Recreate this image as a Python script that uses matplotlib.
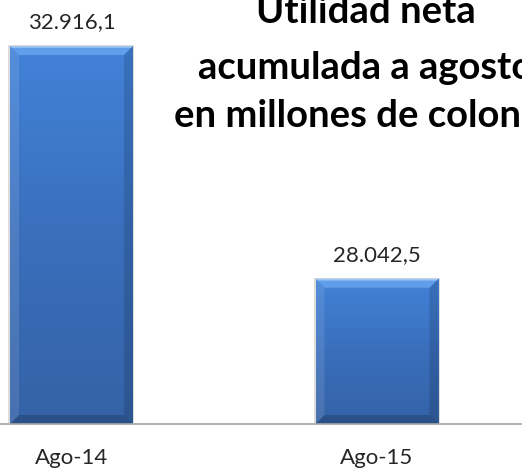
import numpy as np
import matplotlib
matplotlib.use("Agg")
import matplotlib.pyplot as plt
from matplotlib.patches import Polygon
from matplotlib.colors import LinearSegmentedColormap

categories = ["Ago-14", "Ago-15"]
values = [32916.1, 28042.5]
value_labels = ["32.916,1", "28.042,5"]
title_lines = ["Utilidad neta", "acumulada a agosto", "en millones de colones"]

W, H, DPI = 522, 474, 100
fig = plt.figure(figsize=(W / DPI, H / DPI), dpi=DPI)
ax_bottom_px = 474 - 424
ax = fig.add_axes([0, ax_bottom_px / H, 1, 1 - ax_bottom_px / H])
ax.set_facecolor("white")
FONT = "Lato"

x = np.arange(len(categories))
ymin, ymax = 25000, 33880
xmin, xmax = -0.234, 1.4746
ax.set_xlim(xmin, xmax)
ax.set_ylim(ymin, ymax)
bw = 0.4026
bars = ax.bar(x, values, width=bw, color="#3f77c6", zorder=2)

# pixels per data unit
axw_px = W
axh_px = H - ax_bottom_px
ppx = axw_px / (xmax - xmin)
ppy = axh_px / (ymax - ymin)
bev = 9
dx, dy = bev / ppx, bev / ppy

cmap = LinearSegmentedColormap.from_list("g", ["#3462a6", "#3a6fbc", "#4282d8"])
grad = np.linspace(0, 1, 256).reshape(-1, 1)
for rect in bars:
    x0 = rect.get_x(); x1 = x0 + rect.get_width()
    y0 = ymin; y1 = rect.get_height()
    # soft shadow
    ax.add_patch(plt.Rectangle((x0 - 1.5 / ppx, y0), (x1 - x0) + 3 / ppx, y1 - y0 + 1 / ppy,
                               color="#dcdcdc", zorder=1, lw=0))
    im = ax.imshow(grad, extent=[x0, x1, y0, y1], origin="lower", cmap=cmap,
                   aspect="auto", zorder=3)
    im.set_clip_path(rect)
    top = Polygon([(x0, y1), (x1, y1), (x1 - dx, y1 - dy), (x0 + dx, y1 - dy)],
                  closed=True, color="#68a6f0", alpha=0.8, lw=0, zorder=4)
    hl = Polygon([(x0, y1), (x1, y1), (x1 - dx * 0.2, y1 - dy * 0.2), (x0 + dx * 0.2, y1 - dy * 0.2)],
                 closed=True, color="#b8d6f8", alpha=0.7, lw=0, zorder=4)
    left = Polygon([(x0, y1), (x0 + dx, y1 - dy), (x0 + dx, y0 + dy), (x0, y0)],
                   closed=True, color="#ffffff", alpha=0.10, lw=0, zorder=4)
    right = Polygon([(x1, y1), (x1 - dx, y1 - dy), (x1 - dx, y0 + dy), (x1, y0)],
                    closed=True, color="#000000", alpha=0.13, lw=0, zorder=4)
    bot = Polygon([(x0, y0), (x0 + dx, y0 + dy), (x1 - dx, y0 + dy), (x1, y0)],
                  closed=True, color="#000000", alpha=0.18, lw=0, zorder=4)
    for p in (top, hl, left, right, bot):
        ax.add_patch(p)

for xi, v, lab in zip(x, values, value_labels):
    ax.annotate(lab, (xi, v), xytext=(0, 17.3), textcoords="offset points",
                ha="center", va="center", fontsize=16, family=FONT, color="#262626")

for s in ["top", "right", "left"]:
    ax.spines[s].set_visible(False)
ax.spines["bottom"].set_color("#a6a6a6")
ax.spines["bottom"].set_linewidth(1.2)
ax.spines["bottom"].set_zorder(5)
ax.set_yticks([])
ax.set_xticks(x)
ax.set_xticklabels(categories, fontsize=16, family=FONT, color="#262626")
ax.tick_params(axis="x", length=0, pad=17)

title_y = [12, 68, 116]
for line, yy in zip(title_lines, title_y):
    fig.text(366 / W, 1 - yy / H, line, ha="center", va="center", fontsize=27.5,
             fontweight="bold", family=FONT, color="black")

fig.savefig("out.png", dpi=DPI)
